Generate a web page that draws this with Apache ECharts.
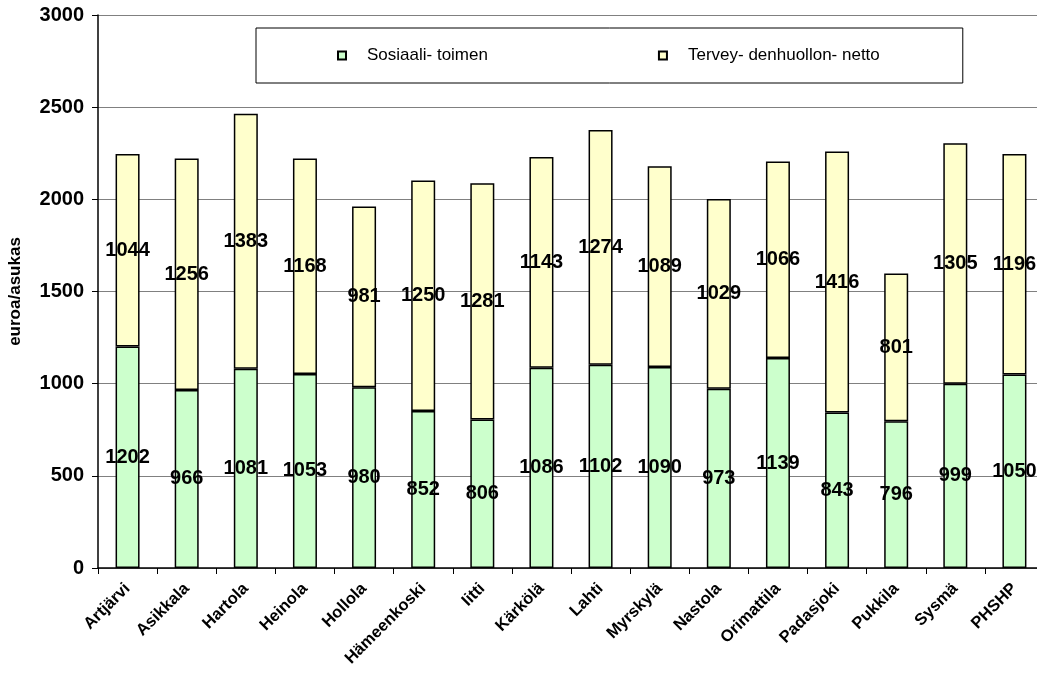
<!DOCTYPE html>
<html>
<head>
<meta charset="utf-8">
<script src="https://cdn.jsdelivr.net/npm/echarts@6/dist/echarts.min.js"></script>
<style>html,body{margin:0;padding:0;background:#fff}#c{width:1037px;height:683px}</style>
</head>
<body>
<div id="c"></div>
<script>
const categories = ["Artjärvi","Asikkala","Hartola","Heinola","Hollola","Hämeenkoski","Iitti","Kärkölä","Lahti","Myrskylä","Nastola","Orimattila","Padasjoki","Pukkila","Sysmä","PHSHP"];
const sosiaali = [1202,966,1081,1053,980,852,806,1086,1102,1090,973,1139,843,796,999,1050];
const terveys = [1044,1256,1383,1168,981,1250,1281,1143,1274,1089,1029,1066,1416,801,1305,1196];
const yTicks = [0,500,1000,1500,2000,2500,3000];
const seriesNames = ["Sosiaali- toimen","Tervey- denhuollon- netto"];

const FONT = "Liberation Sans, Arial, sans-serif";
const chart = echarts.init(document.getElementById('c'));
const labelCfg = {show:true, position:'inside', color:'#000', fontFamily:FONT, fontWeight:'bold', fontSize:20};
chart.setOption({
  animation:false,
  backgroundColor:'#fff',
  grid:{left:98, top:15, bottom:115, right:-7, containLabel:false, outerBoundsMode:'none'},
  legend:{
    left:256, top:28,
    padding:[19,83,19,81],
    borderColor:'#000', borderWidth:1, backgroundColor:'#fff',
    itemWidth:8, itemHeight:8, itemGap:170,
    icon:'rect',
    textStyle:{fontFamily:FONT, fontSize:17, color:'#000', padding:[0,0,0,16]},
    data:seriesNames
  },
  xAxis:{
    type:'category', data:categories,
    axisLine:{lineStyle:{color:'#000', width:1.5}},
    axisTick:{show:true, length:6, lineStyle:{color:'#000'}},
    axisLabel:{rotate:45, interval:0, color:'#000', fontFamily:FONT, fontWeight:'bold', fontSize:16.5, margin:18}
  },
  yAxis:{
    type:'value', min:yTicks[0], max:yTicks[yTicks.length-1], interval:500,
    name:'euroa/asukas', nameLocation:'middle', nameGap:74, nameRotate:90,
    nameTextStyle:{fontFamily:FONT, fontWeight:'bold', fontSize:17, color:'#000'},
    axisLine:{show:true, lineStyle:{color:'#000', width:1.5}},
    axisTick:{show:true, length:6, lineStyle:{color:'#000'}},
    splitLine:{lineStyle:{color:'#808080', width:1}},
    axisLabel:{color:'#000', fontFamily:FONT, fontWeight:'bold', fontSize:20, margin:14, formatter:function(v){return String(v);}}
  },
  series:[
    {name:seriesNames[0], type:'bar', stack:'t', data:sosiaali, barWidth:24,
     itemStyle:{color:'#ccffcc', borderColor:'#000', borderWidth:1.5}, label:labelCfg},
    {name:seriesNames[1], type:'bar', stack:'t', data:terveys, barWidth:24,
     itemStyle:{color:'#ffffcc', borderColor:'#000', borderWidth:1.5}, label:labelCfg}
  ]
});
</script>
</body>
</html>
